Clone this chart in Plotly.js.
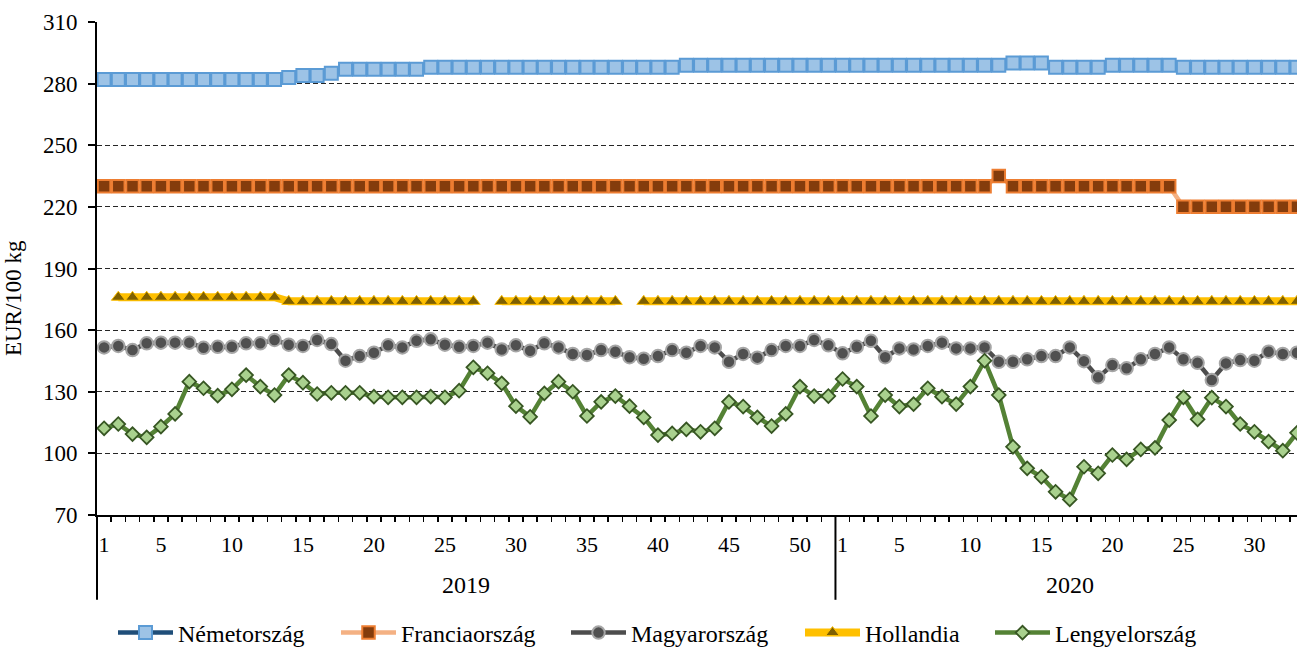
<!DOCTYPE html>
<html>
<head>
<meta charset="utf-8">
<script src="https://cdn.plot.ly/plotly-3.0.1.min.js"></script>
<style>html,body{margin:0;padding:0;background:#fff;}#chart{width:1297px;height:648px;}</style>
</head>
<body>
<div id="chart"></div>
<script>
// Week labels: 2019 weeks 1-52, 2020 weeks 1-33
const years = ["2019", "2020"];
const weeks2019 = Array.from({length: 52}, (_, i) => i + 1);
const weeks2020 = Array.from({length: 33}, (_, i) => i + 1);
const tickLabels2019 = ["1","5","10","15","20","25","30","35","40","45","50"];
const tickLabels2020 = ["1","5","10","15","20","25","30"];
const seriesNames = ["Németország", "Franciaország", "Magyarország", "Hollandia", "Lengyelország"];

// EUR/100 kg
const nemetorszag = [
  282,282,282,282,282,282,282,282,282,282,282,282,282,283,284,284,285,287,287,287,
  287,287,287,288,288,288,288,288,288,288,288,288,288,288,288,288,288,288,288,288,
  288,289,289,289,289,289,289,289,289,289,289,289,
  289,289,289,289,289,289,289,289,289,289,289,289,290,290,290,288,288,288,288,289,
  289,289,289,289,288,288,288,288,288,288,288,288,288
];
const franciaorszag = [
  230,230,230,230,230,230,230,230,230,230,230,230,230,230,230,230,230,230,230,230,
  230,230,230,230,230,230,230,230,230,230,230,230,230,230,230,230,230,230,230,230,
  230,230,230,230,230,230,230,230,230,230,230,230,
  230,230,230,230,230,230,230,230,230,230,230,235,230,230,230,230,230,230,230,230,
  230,230,230,230,220,220,220,220,220,220,220,220,220
];
const magyarorszag = [
  151.6,152.3,150.3,153.6,153.9,153.9,153.9,151.4,151.9,151.9,
  153.6,153.6,155.2,152.9,152.3,155.2,153.2,145.1,147.4,149.0,
  152.6,151.6,154.8,155.5,152.9,151.9,152.3,153.9,150.6,152.6,
  150.0,153.6,151.6,148.4,147.9,150.3,149.5,146.8,146.1,147.4,
  150.3,149.0,152.3,151.6,144.6,148.4,146.6,150.3,152.3,152.3,
  155.2,152.6,
  148.7,151.9,154.8,146.8,151.1,150.6,152.3,153.9,151.1,151.1,
  151.6,144.6,144.6,145.8,147.4,147.4,151.6,144.9,137.0,143.0,
  141.4,145.8,148.4,151.6,145.8,144.1,135.7,143.8,145.4,145.1,
  149.5,148.4,149.0
];
const hollandia = [
  null,176,176,176,176,176,176,176,176,176,176,176,176,174,174,174,174,174,174,174,
  174,174,174,174,174,174,174,null,174,174,174,174,174,174,174,174,174,null,174,174,
  174,174,174,174,174,174,174,174,174,174,174,174,
  174,174,174,174,174,174,174,174,174,174,174,174,174,174,174,174,174,174,174,174,
  174,174,174,174,174,174,174,174,174,174,174,174,174
];
const lengyelorszag = [
  112.2,114.3,109.4,107.8,113.0,119.2,134.9,131.7,128.1,131.2,
  138.1,132.5,128.4,138.1,134.4,128.9,129.5,129.5,129.5,127.6,
  127.3,127.3,127.3,127.6,127.3,130.5,141.9,139.0,134.1,123.0,
  117.8,129.2,134.9,130.0,118.2,125.1,127.9,123.0,117.5,108.9,
  109.7,111.7,110.5,112.2,125.1,122.8,117.5,113.3,119.2,132.5,
  127.9,127.9,
  136.2,132.5,118.2,128.4,122.8,124.0,131.7,127.6,124.0,132.5,
  145.1,128.4,103.2,92.7,88.6,81.3,77.6,93.5,90.3,99.2,
  97.1,101.9,102.7,116.2,127.3,116.6,127.1,122.8,114.3,110.5,
  105.7,101.3,110.0
];

// category index positions
const n2019 = weeks2019.length, n2020 = weeks2020.length;
const xIdx = Array.from({length: n2019 + n2020}, (_, i) => i);
const hoverText = weeks2019.map(w => years[0] + " " + w).concat(weeks2020.map(w => years[1] + " " + w));

const tickvals = tickLabels2019.map(t => +t - 1).concat(tickLabels2020.map(t => n2019 + (+t) - 1));
const ticktext = tickLabels2019.concat(tickLabels2020);

const font = "Liberation Serif";

const styles = [
  {line: {color: "#1F4E79", width: 4.5},
   marker: {symbol: "square", size: 13, color: "#9DC3E6", line: {color: "#5B9BD5", width: 2}}},
  {line: {color: "#F4B183", width: 4.5},
   marker: {symbol: "square", size: 12.5, color: "#843C0C", line: {color: "#ED7D31", width: 2}}},
  {line: {color: "#4D4D4D", width: 4.5},
   marker: {symbol: "circle", size: 12.5, color: "#505050", line: {color: "#A6A6A6", width: 2}}},
  {line: {color: "#FFC000", width: 8},
   marker: {symbol: "triangle-up", size: 12, color: "#7F6000", line: {color: "#FFC000", width: 1}}},
  {line: {color: "#548235", width: 4.5},
   marker: {symbol: "diamond", size: 10.5, color: "#A9D18E", line: {color: "#375623", width: 1.8}}}
];
const values = [nemetorszag, franciaorszag, magyarorszag, hollandia, lengyelorszag];
const legendIds = ["legend", "legend2", "legend3", "legend4", "legend5"];

const traces = values.map((v, i) => Object.assign({
  type: "scatter", mode: "lines+markers", name: seriesNames[i], x: xIdx, y: v, text: hoverText,
  connectgaps: false, legend: legendIds[i],
  hovertemplate: "%{text}: %{y}<extra>" + seriesNames[i] + "</extra>"
}, styles[i]));

const xSep = n2019 - 0.5;
const xEnd = n2019 + n2020 - 0.5;

// legend item left edges (pixels) -> container coords
const legendLeftPx = [113, 336, 566, 800, 990];
const W = 1297, H = 648;

const layout = {
  width: W, height: H,
  margin: {l: 97, r: 0, t: 22, b: 133, pad: 0, autoexpand: false},
  paper_bgcolor: "#fff", plot_bgcolor: "#fff",
  font: {family: font, size: 22, color: "#000"},
  showlegend: true,
  xaxis: {
    range: [-0.5, 84.0], showgrid: false, zeroline: false, automargin: false,
    showline: true, linecolor: "#000", linewidth: 2,
    tickmode: "array", tickvals: tickvals, ticktext: ticktext,
    ticks: "", ticklabelstandoff: 9,
    tickfont: {family: font, size: 22, color: "#000"},
    minor: {tickmode: "linear", tick0: -0.5, dtick: 1, ticks: "outside", ticklen: 5, tickwidth: 1.5, tickcolor: "#000", showgrid: false}
  },
  yaxis: {
    range: [70, 310], tickmode: "linear", tick0: 70, dtick: 30, automargin: false,
    showline: true, linecolor: "#000", linewidth: 2,
    ticks: "outside", ticklen: 7, tickwidth: 2, tickcolor: "#000",
    showgrid: true, gridcolor: "#262626", gridwidth: 1.2, griddash: "5px,3px",
    zeroline: false, ticklabelstandoff: 6,
    tickfont: {family: font, size: 23, color: "#000"}
  },
  shapes: [
    {type: "line", xref: "paper", yref: "paper", x0: 0, x1: 0, y0: 0, y1: -0.172, line: {color: "#000", width: 2}},
    {type: "line", xref: "x", yref: "paper", x0: xSep, x1: xSep, y0: 0, y1: -0.172, line: {color: "#000", width: 2}}
  ],
  annotations: [
    {text: years[0], xref: "x", yref: "paper", x: (xSep - 0.5) / 2, y: -0.142, showarrow: false,
     xanchor: "center", yanchor: "middle", font: {family: font, size: 24, color: "#000"}},
    {text: years[1], xref: "x", yref: "paper", x: (xSep + xEnd) / 2, y: -0.142, showarrow: false,
     xanchor: "center", yanchor: "middle", font: {family: font, size: 24, color: "#000"}},
    {text: "EUR/100 kg", xref: "paper", yref: "paper", x: -0.07, y: 0.44, showarrow: false,
     textangle: -90, xanchor: "center", yanchor: "middle", font: {family: font, size: 23, color: "#000"}}
  ]
};
legendIds.forEach((id, i) => {
  layout[id] = {
    orientation: "h", xref: "container", yref: "container",
    x: legendLeftPx[i] / W, xanchor: "left",
    y: 1 - 633 / H, yanchor: "middle", itemwidth: 55, borderwidth: 0,
    font: {family: font, size: 24, color: "#000"}, bgcolor: "rgba(0,0,0,0)"
  };
});

Plotly.newPlot("chart", traces, layout, {displayModeBar: false, staticPlot: true});
</script>
</body>
</html>
